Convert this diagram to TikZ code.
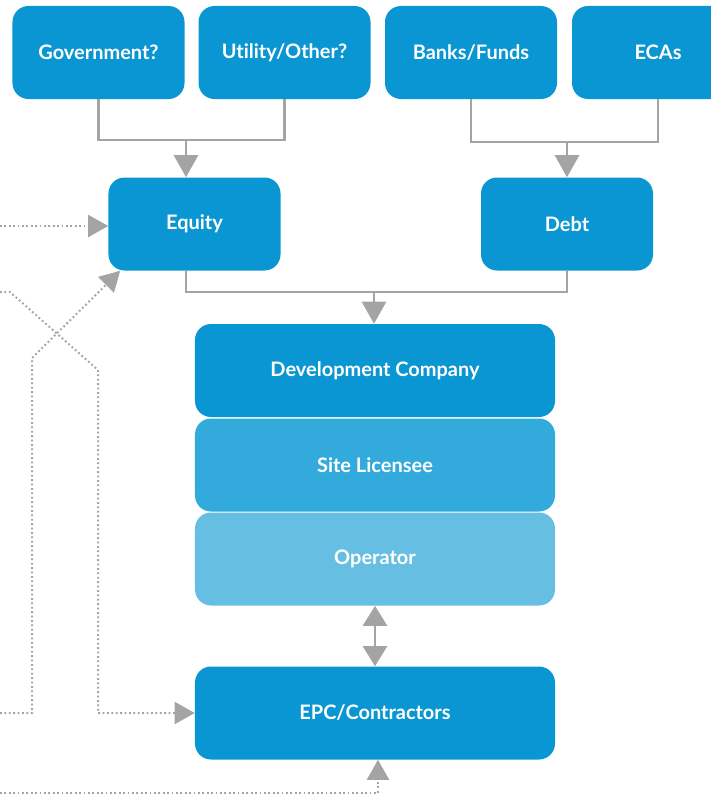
\documentclass[tikz,border=0pt]{standalone}
\usepackage{fontspec}
\setmainfont{Lato}[Ligatures=NoCommon]
\usetikzlibrary{arrows.meta,calc}

\definecolor{boxdark}{HTML}{0A96D2}
\definecolor{boxmid}{HTML}{33AADC}
\definecolor{boxlight}{HTML}{66BFE3}
\definecolor{linegray}{HTML}{A4A4A4}

\begin{document}
\begin{tikzpicture}[x=0.25mm, y=-0.25mm,
  box/.style={rectangle, rounded corners=4mm, fill=boxdark, text=white,
    font=\bfseries\fontsize{14.2}{17}\selectfont,
    minimum width=43mm, minimum height=23.25mm, inner sep=0pt},
  widebox/.style={box, minimum width=90mm},
  link/.style={draw=linegray, line width=0.65mm},
  arr/.style={link, -{Triangle[length=5.5mm, width=6mm]}},
  dots/.style={draw=linegray, line width=0.5mm, dash pattern=on 0.45mm off 0.65mm},
  dotarr/.style={dots, -{Triangle[length=5mm, width=5.5mm]}}]

  \useasboundingbox (0,0) rectangle (710,798);

  % sources of money
  \node[box] (gov)   at (98.5,52.5) {Government?};
  \node[box] (util)  at (284.5,52.5) {Utility/Other?};
  \node[box] (banks) at (471,52.5) {Banks/Funds};
  \node[box] (ecas)  at (658,52.5) {ECAs};

  \node[box] (equity) at (194.5,224) {Equity};
  \node[box] (debt)   at (567,224) {Debt};

  % the project company stack
  \node[widebox] (dev)  at (375,370.5) {Development Company};
  \node[widebox, fill=boxmid]   (site) at (375,465) {Site Licensee};
  \node[widebox, fill=boxlight] (oper) at (375,559) {Operator};

  \node[widebox] (epc) at (375,713) {EPC/Contractors};

  % joins
  \coordinate (eqjoin)  at (186,140);
  \coordinate (dbjoin)  at (567,142);
  \coordinate (devjoin) at (374,292);

  \draw[link] (gov.south) -- (gov.south |- eqjoin) -- (util.south |- eqjoin) -- (util.south);
  \draw[arr] (eqjoin) -- (eqjoin |- equity.north);

  \draw[link] (banks.south) -- (banks.south |- dbjoin) -- (ecas.south |- dbjoin) -- (ecas.south);
  \draw[arr] (dbjoin) -- (dbjoin |- debt.north);

  \draw[link] (equity.south -| eqjoin) -- (eqjoin |- devjoin) -- (debt.south |- devjoin) -- (debt.south);
  \draw[arr] (devjoin) -- (devjoin |- dev.north);

  \draw[link, {Triangle[length=5mm, width=6mm]}-{Triangle[length=5mm, width=6mm]}] (oper.south) -- (epc.north);

  % dotted feeds from the left
  \coordinate (eqsrc) at (0,226);
  \coordinate (crossA) at (0,713);
  \coordinate (crossB) at (0,292);
  \coordinate (botsrc) at (0,793);

  \draw[dotarr] (eqsrc) -- (eqsrc -| equity.west);
  \draw[dotarr] (crossA) -- (32,713) -- (32,358) -- ([xshift=3mm]equity.south west);
  \draw[dotarr] (crossB) -- (10,292) -- (98,370) -- (98,713) -- (epc.west);
  \draw[dotarr] (botsrc) -- ([xshift=0.75mm]epc.south |- botsrc) -- ([xshift=0.75mm]epc.south);
\end{tikzpicture}
\end{document}
